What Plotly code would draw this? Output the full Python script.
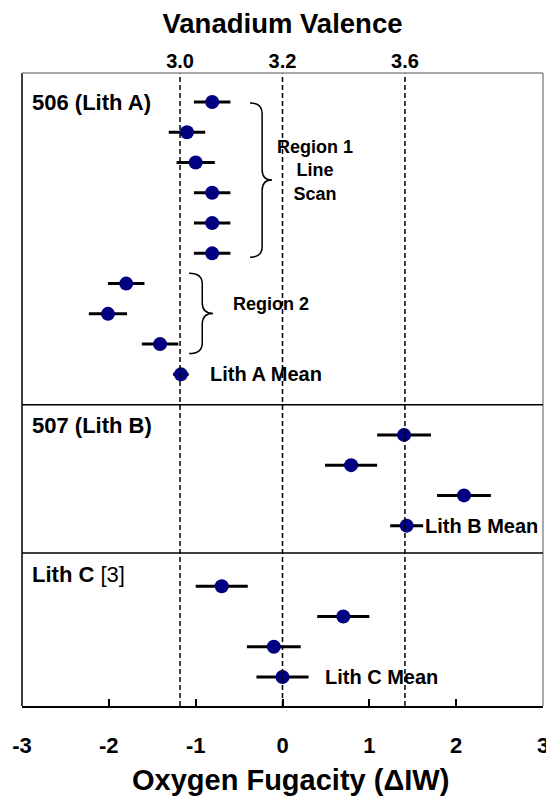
import plotly.graph_objects as go

# ---------------- data ----------------
# 506 (Lith A): rows 1-10
rows_a = [1, 2, 3, 4, 5, 6, 7, 8, 9, 10]
fo2_a = [-0.81, -1.10, -1.00, -0.81, -0.81, -0.81, -1.80, -2.01, -1.41, -1.17]
err_a = [0.21, 0.21, 0.22, 0.21, 0.21, 0.21, 0.21, 0.22, 0.21, 0.09]
# 507 (Lith B): rows 12-15
rows_b = [12, 13, 14, 15]
fo2_b = [1.40, 0.79, 2.09, 1.43]
err_b = [0.31, 0.30, 0.31, 0.19]
# Lith C [3]: rows 17-20
rows_c = [17, 18, 19, 20]
fo2_c = [-0.70, 0.70, -0.10, 0.00]
err_c = [0.30, 0.30, 0.31, 0.30]

# top axis: vanadium valence vs oxygen fugacity
valence_labels = ["3.0", "3.2", "3.6"]
valence_fo2 = [-1.18, 0.0, 1.41]

x_ticks = [-3, -2, -1, 0, 1, 2, 3]
group_separators = [11.0, 15.9]
group_labels = ["<b>506 (Lith A)</b>", "<b>507 (Lith B)</b>", "<b>Lith C </b>[3]"]
group_label_rows = [1.0, 11.7, 16.6]
mean_labels = ["Lith A Mean", "Lith B Mean", "Lith C Mean"]
mean_label_x = [-0.86, 1.62, 0.47]
mean_label_rows = [10, 15, 20]

Y_RANGE = [20.96, 0.04]
FONT = "Liberation Sans, Arial, sans-serif"
NAVY = "#000080"

fig = go.Figure()

# dashed valence reference lines (on top axis)
for xv in valence_fo2:
    fig.add_trace(go.Scatter(
        x=[xv, xv], y=[Y_RANGE[0], Y_RANGE[1]], xaxis="x2", yaxis="y",
        mode="lines", line=dict(color="black", width=1.5, dash="5px,3px"),
        hoverinfo="skip", showlegend=False))

for xs, ys, es in [(fo2_a, rows_a, err_a), (fo2_b, rows_b, err_b), (fo2_c, rows_c, err_c)]:
    fig.add_trace(go.Scatter(
        x=xs, y=ys, mode="markers",
        marker=dict(color=NAVY, size=14, line=dict(width=0)),
        error_x=dict(type="data", array=es, color="black", thickness=3, width=0),
        showlegend=False))

shapes = []
# frame
shapes.append(dict(type="line", xref="paper", yref="paper", x0=0, x1=0, y0=0, y1=1,
                   line=dict(color="black", width=1.5)))
shapes.append(dict(type="line", xref="paper", yref="paper", x0=0, x1=1, y0=1, y1=1,
                   line=dict(color="#8c8c8c", width=1.5)))
shapes.append(dict(type="line", xref="paper", yref="paper", x0=1, x1=1, y0=0, y1=1,
                   line=dict(color="#8c8c8c", width=1.5)))
for s in group_separators:
    shapes.append(dict(type="line", xref="paper", yref="y", x0=0, x1=1, y0=s, y1=s,
                       line=dict(color="black", width=1.5)))


def brace(x0, x1, y0, y1, d=0.35):
    xm = x0 + 0.55 * (x1 - x0)
    ym = (y0 + y1) / 2
    return (f"M {x0},{y0} Q {xm},{y0} {xm},{y0 + d} L {xm},{ym - d} "
            f"Q {xm},{ym} {x1},{ym} Q {xm},{ym} {xm},{ym + d} "
            f"L {xm},{y1 - d} Q {xm},{y1} {x0},{y1}")


shapes.append(dict(type="path", xref="x", yref="y", path=brace(-0.374, -0.121, 1.03, 6.13),
                   line=dict(color="black", width=1.5)))
shapes.append(dict(type="path", xref="x", yref="y", path=brace(-1.076, -0.80, 6.66, 9.31),
                   line=dict(color="black", width=1.5)))

annotations = []
for t, r in zip(group_labels, group_label_rows):
    annotations.append(dict(text=t, x=-2.91, y=r, xref="x", yref="y", xanchor="left",
                            yanchor="middle", showarrow=False,
                            font=dict(family=FONT, size=22, color="black")))
for t, xv, r in zip(mean_labels, mean_label_x, mean_label_rows):
    annotations.append(dict(text=f"<b>{t}</b>", x=xv, y=r, xref="x", yref="y",
                            xanchor="left", yanchor="middle", showarrow=False,
                            font=dict(family=FONT, size=20, color="black")))
annotations.append(dict(text="<b>Region 1<br>Line<br>Scan</b>", x=0.374, y=3.25, xref="x",
                        yref="y", xanchor="center", yanchor="middle", showarrow=False,
                        font=dict(family=FONT, size=18, color="black")))
annotations.append(dict(text="<b>Region 2</b>", x=-0.13, y=7.66, xref="x", yref="y",
                        xanchor="center", yanchor="middle", showarrow=False,
                        font=dict(family=FONT, size=18, color="black")))
# bottom axis title (slightly right of centre, as in the reference)
annotations.append(dict(text="<b>Oxygen Fugacity (ΔIW)</b>", x=0.5, y=0, xref="paper",
                        yref="paper", xanchor="center", yanchor="middle", xshift=8,
                        yshift=-74, showarrow=False,
                        font=dict(family=FONT, size=29, color="black")))

fig.update_layout(
    width=546, height=794,
    margin=dict(l=14, r=11, t=65, b=96),
    paper_bgcolor="white", plot_bgcolor="white",
    font=dict(family=FONT, color="black"),
    shapes=shapes, annotations=annotations,
    xaxis=dict(range=[-3, 3], tickmode="array", tickvals=x_ticks,
               ticktext=[str(v) for v in x_ticks],
               ticks="inside", ticklen=7, tickwidth=1.5, tickcolor="black",
               showline=True, linecolor="black", linewidth=1.5, mirror=False,
               showgrid=False, zeroline=False, automargin=False,
               tickfont=dict(family=FONT, size=22, weight="bold"),
               ticklabelstandoff=19),
    xaxis2=dict(range=[-3, 3], overlaying="x", side="top", tickmode="array",
                tickvals=valence_fo2, ticktext=valence_labels, ticks="",
                showline=False, showgrid=False, zeroline=False, automargin=False,
                tickfont=dict(family=FONT, size=20, weight="bold"),
                title=dict(text="<b>Vanadium Valence</b>", standoff=13,
                           font=dict(family=FONT, size=27.5))),
    yaxis=dict(range=Y_RANGE, showticklabels=False, ticks="", showline=False,
               showgrid=False, zeroline=False, automargin=False),
)

fig.write_html("out.html")
